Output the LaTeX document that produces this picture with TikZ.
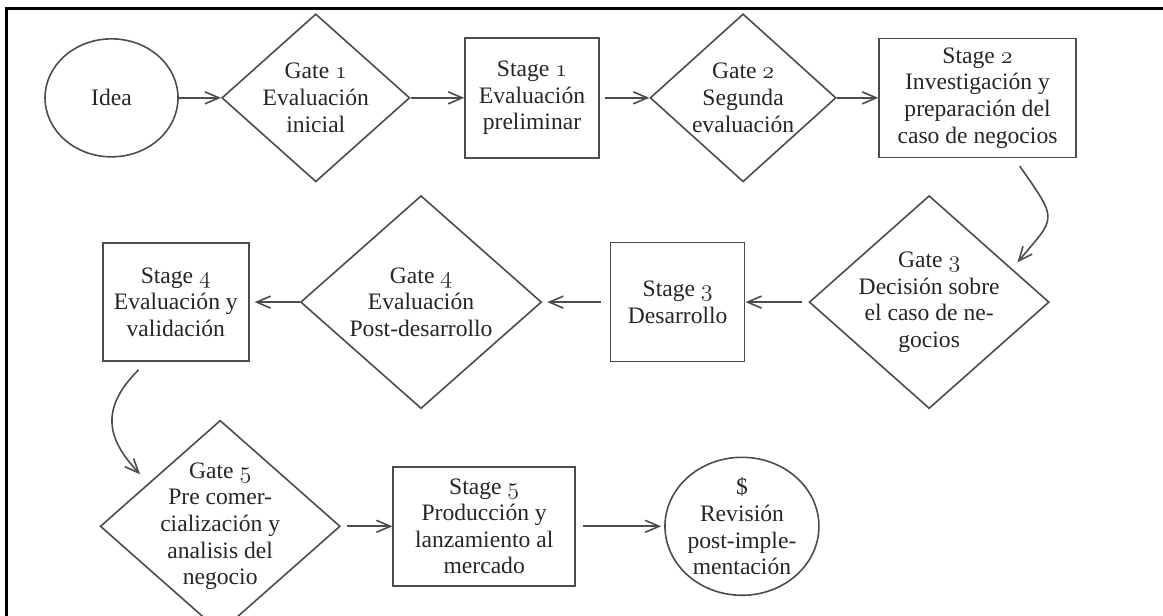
\documentclass[tikz,border=0pt]{standalone}
\usepackage{fontspec}
\setmainfont{Liberation Serif}
\usepackage{tikz}
\usetikzlibrary{shapes.geometric,arrows.meta}
\newcommand{\osnum}[1]{{\usefont{OML}{cmm}{m}{it}#1}}

\begin{document}
\begin{tikzpicture}[auto,
    >={Straight Barb[length=7pt,width=6pt]},
    every node/.style={font=\fontsize{11.8}{13.3}\selectfont, text=black!85, align=center},
    gate/.style={diamond, draw=black!70, line width=0.8pt, inner sep=-15pt},
    stagebox/.style={rectangle, draw=black!70, line width=0.8pt, inner sep=0pt},
    endpoint/.style={ellipse, draw=black!70, line width=0.8pt, inner sep=-15pt},
    flow/.style={->, draw=black!70, line width=0.8pt}]
    \useasboundingbox (0,0) rectangle (20.44,10.81);
    \clip (0,0) rectangle (20.44,10.81);
    \draw [line width=1.4pt] (0.12,-0.50) -- (0.12,10.66) -- (21.00,10.66);
    \node [endpoint, minimum width=66.5pt, minimum height=59pt] (a) at (1.96, 9.09) {Idea};
    \node [gate, minimum width=94pt, minimum height=84pt] (b) at (5.55, 9.09) {Gate \osnum{1}\\Evaluación\\inicial};
    \node [stagebox, minimum width=67pt, minimum height=60pt] (c) at (9.35, 9.09) {Stage \osnum{1}\\Evaluación\\preliminar};
    \node [gate, minimum width=93pt, minimum height=84pt] (d) at (13.06, 9.09) {Gate \osnum{2}\\Segunda\\evaluación};
    \node [stagebox, minimum width=98.5pt, minimum height=59.5pt] (e) at (17.18, 9.09) {Stage \osnum{2}\\Investigación y\\preparación del\\caso de negocios};
    \node [gate, minimum width=120pt, minimum height=106.5pt] (f) at (16.33, 5.50) {Gate \osnum{3}\\Decisión sobre\\el caso de ne-\\gocios};
    \node [stagebox, minimum width=67pt, minimum height=59.5pt] (g) at (11.91, 5.50) {Stage \osnum{3}\\Desarrollo};
    \node [gate, minimum width=120.5pt, minimum height=106.5pt] (h) at (7.40, 5.50) {Gate \osnum{4}\\Evaluación\\Post-desarrollo};
    \node [stagebox, minimum width=73pt, minimum height=59pt] (i) at (3.09, 5.50) {Stage \osnum{4}\\Evaluación y\\validación};
    \node [gate, minimum width=120pt, minimum height=106pt] (j) at (3.87, 1.56) {Gate \osnum{5}\\Pre comer-\\cialización y\\analisis del\\negocio};
    \node [stagebox, minimum width=91pt, minimum height=59.5pt] (k) at (8.51, 1.56) {Stage \osnum{5}\\Producción y\\lanzamiento al\\mercado};
    \node [endpoint, minimum width=77pt, minimum height=69pt] (l) at (13.04, 1.56) {\$\\Revisión\\post-imple-\\mentación};
    \draw [flow] (a) to (b);
    \draw [flow] (b) to (c);
    \draw [flow, shorten <=2.5pt] (c) to (d);
    \draw [flow] (d) to (e);
    \draw [flow, shorten >=4pt] ([yshift=-4pt]e.-55) to[out=-55, in=50, looseness=1.7] (f.22);
    \draw [flow, shorten <=3pt] (f) to (g);
    \draw [flow, shorten <=4.5pt, shorten >=2.5pt] (g) to (h);
    \draw [flow, shorten >=2.5pt] (h) to (i);
    \draw [flow, shorten >=6pt] ([yshift=-4pt]i.-122) to[out=-135, in=133, looseness=1.3] (j.149);
    \draw [flow, shorten <=3pt] (j) to (k);
    \draw [flow, shorten <=3.5pt, shorten >=1.5pt] (k) to (l);
  \end{tikzpicture}
\end{document}
